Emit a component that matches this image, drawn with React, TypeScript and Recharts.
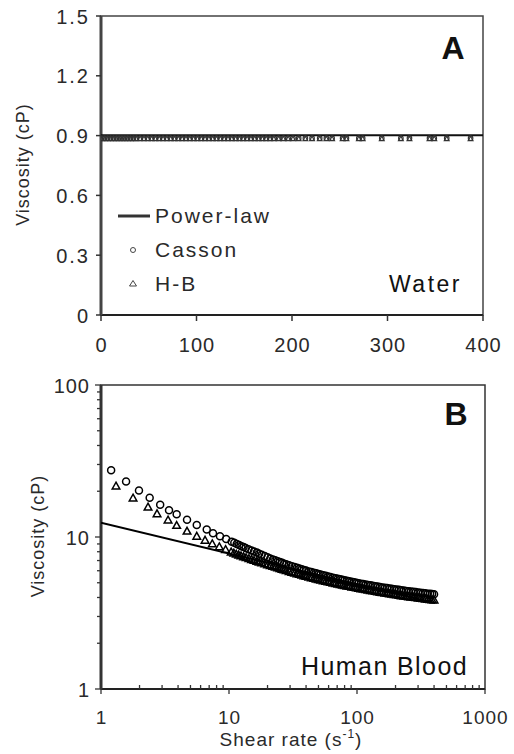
import React from 'react';
import { ScatterChart, Scatter, XAxis, YAxis, ReferenceArea, Legend } from 'recharts';

const FONT = '"Liberation Sans", Arial, Helvetica, sans-serif';
const TXT = '#2a2a2a';
const AX = '#333333';

// ---------- Panel A : Water  [shear rate, viscosity] ----------
const waterShear = [1, 4, 7, 10, 13, 16, 19, 22, 25, 28, 31, 34, 37, 41, 45, 49, 53, 57, 61, 65, 69, 73, 77, 81, 85, 89, 93, 97, 101, 105, 109, 113, 117, 121, 125, 129, 133, 137, 141, 145, 149, 153, 157, 161, 165, 169, 173, 177, 181, 186, 191, 196, 201, 207, 214, 221, 229, 236, 242, 253, 257, 270, 274, 294, 314, 323, 344, 349, 362, 387];
const waterCassonLevel = [0.887];
const waterHBLevel = [0.884];
const waterPowerShear = [0, 400];
const waterPowerVisc = [0.902, 0.902];
const waterXTicks = [0, 100, 200, 300, 400];
const waterYTicks = [0, 0.3, 0.6, 0.9, 1.2, 1.5];

// ---------- Panel B : Human blood  [shear rate, viscosity] ----------
const bloodCasson = [
  [1.2, 27.5], [1.57, 23.2], [1.98, 20.2], [2.4, 18.1], [2.9, 16.3], [3.4, 15.0], [3.9, 14.1], [4.7, 13.0], [5.6, 12.0],
  [6.7, 11.2], [7.5, 10.6], [8.5, 10.1], [9.5, 9.7], [10.5, 9.3], [11, 9.15], [11.5, 9.0], [12, 8.85], [12.5, 8.7],
  [13, 8.58], [13.5, 8.45], [14.2, 8.3], [15, 8.15], [15.7, 8.02], [16.5, 7.9], [17.2, 7.77], [18, 7.65], [19, 7.5],
  [20, 7.35], [21, 7.23], [22, 7.12], [23, 7.02], [24, 6.93], [25, 6.84], [26, 6.76], [27, 6.68], [28, 6.61],
  [29.5, 6.52], [31, 6.43], [32.5, 6.35], [34, 6.27], [35.5, 6.2], [37, 6.13], [38.5, 6.07], [40, 6.01], [42, 5.94],
  [44, 5.88], [46, 5.82], [48, 5.77], [50, 5.71], [52, 5.66], [54.5, 5.6], [57, 5.55], [59.5, 5.5], [62, 5.45],
  [65, 5.4], [68, 5.35], [71, 5.31], [74, 5.27], [77, 5.23], [80, 5.19], [83.5, 5.15], [87, 5.12], [91, 5.08],
  [95, 5.04], [99, 5.0], [103, 4.97], [107.5, 4.93], [112, 4.9], [117, 4.87], [122, 4.84], [127.5, 4.81], [133, 4.78],
  [139, 4.75], [145, 4.72], [151.5, 4.69], [158, 4.66], [165, 4.63], [172, 4.61], [179.5, 4.58], [187, 4.56],
  [195.5, 4.53], [204, 4.51], [213, 4.49], [222, 4.47], [232, 4.44], [242, 4.42], [253, 4.4], [264, 4.38], [276, 4.36],
  [288, 4.34], [301, 4.32], [314, 4.3], [328, 4.28], [342, 4.26], [357, 4.24], [372, 4.23], [386, 4.21], [400, 4.2],
];
const bloodHB = [
  [1.31, 21.6], [1.78, 18.0], [2.33, 15.7], [2.74, 14.2], [3.34, 12.9], [3.9, 11.9], [4.7, 10.9], [5.6, 10.1],
  [6.5, 9.5], [7.4, 9.0], [8.4, 8.6], [9.4, 8.25], [10.4, 7.95], [10.9, 7.82], [11.4, 7.7], [11.9, 7.6], [12.4, 7.5],
  [13, 7.4], [13.6, 7.3], [14.3, 7.2], [15, 7.1], [15.7, 7.0], [16.5, 6.9], [17.2, 6.82], [18, 6.75], [19, 6.65],
  [20, 6.55], [21, 6.47], [22, 6.4], [23, 6.32], [24, 6.25], [25, 6.18], [26, 6.12], [27, 6.06], [28, 6.0],
  [29.5, 5.92], [31, 5.85], [32.5, 5.78], [34, 5.72], [35.5, 5.66], [37, 5.6], [38.5, 5.55], [40, 5.5], [42, 5.44],
  [44, 5.38], [46, 5.33], [48, 5.28], [50, 5.23], [52, 5.19], [54.5, 5.14], [57, 5.1], [59.5, 5.06], [62, 5.02],
  [65, 4.97], [68, 4.93], [71, 4.89], [74, 4.86], [77, 4.82], [80, 4.79], [83.5, 4.75], [87, 4.72], [91, 4.68],
  [95, 4.65], [99, 4.62], [103, 4.59], [107.5, 4.56], [112, 4.53], [117, 4.5], [122, 4.47], [127.5, 4.44], [133, 4.41],
  [139, 4.38], [145, 4.35], [151.5, 4.32], [158, 4.3], [165, 4.27], [172, 4.25], [179.5, 4.22], [187, 4.2],
  [195.5, 4.17], [204, 4.15], [213, 4.12], [222, 4.1], [232, 4.08], [242, 4.06], [253, 4.04], [264, 4.02], [276, 4.0],
  [288, 3.98], [301, 3.96], [314, 3.94], [328, 3.92], [342, 3.9], [357, 3.88], [372, 3.87], [386, 3.85], [400, 3.84],
];
const bloodPower = [[1, 12.4], [407, 3.68]];
const logXTicks = [1, 2, 3, 4, 5, 6, 7, 8, 9, 10, 20, 30, 40, 50, 60, 70, 80, 90, 100, 200, 300, 400, 500, 600, 700, 800, 900, 1000];
const logYTicks = [1, 2, 3, 4, 5, 6, 7, 8, 9, 10, 20, 30, 40, 50, 60, 70, 80, 90, 100];
const decadeXLabels = [1, 10, 100, 1000];
const decadeYLabels = [1, 10, 100];
const legendOrder = ['Power-law', 'Casson', 'H-B'];

const toPts = (pairs: number[][]) => pairs.map(([x, y]) => ({ x, y }));

const waterCassonData = waterShear.map((x) => ({ x, y: waterCassonLevel[0] }));
const waterHBData = waterShear.map((x) => ({ x, y: waterHBLevel[0] }));
const waterPowerData = waterPowerShear.map((x, i) => ({ x, y: waterPowerVisc[i] }));
const bloodCassonData = toPts(bloodCasson);
const bloodHBData = toPts(bloodHB);
const bloodPowerData = toPts(bloodPower);

// ---------- shapes ----------
const makeCircle = (r: number, color: string, w: number) => (p: any) =>
  p.cx == null ? <g /> : <circle cx={p.cx} cy={p.cy} r={r} fill="none" stroke={color} strokeWidth={w} />;
const makeTriangle = (s: number, color: string, w: number) => (p: any) =>
  p.cx == null ? <g /> : (
    <path
      d={`M${p.cx},${p.cy - s} L${p.cx + s * 0.95},${p.cy + s * 0.7} L${p.cx - s * 0.95},${p.cy + s * 0.7} Z`}
      fill="none"
      stroke={color}
      strokeWidth={w}
    />
  );
const noShape = () => <g />;

// ---------- ticks ----------
const textProps = { fill: TXT, fontFamily: FONT };

function LinXTick(props: any) {
  const { x, y, payload } = props;
  return (
    <g>
      <line x1={x} x2={x} y1={y} y2={y + 6} stroke={AX} strokeWidth={1.5} />
      <text x={x + 0.5} y={y + 37} textAnchor="middle" fontSize={20} letterSpacing={1} {...textProps}>
        {payload.value}
      </text>
    </g>
  );
}
function LinYTick(props: any) {
  const { x, y, payload } = props;
  const v = payload.value as number;
  return (
    <g>
      <line x1={x} x2={x - 5} y1={y} y2={y} stroke={AX} strokeWidth={1.5} />
      <text x={x - 11} y={y + 7.5} textAnchor="end" fontSize={20} letterSpacing={2} {...textProps}>
        {v === 0 ? '0' : v.toFixed(1)}
      </text>
    </g>
  );
}
function LogXTick(props: any) {
  const { x, y, payload } = props;
  const v = payload.value as number;
  const major = decadeXLabels.includes(v);
  return (
    <g>
      <line x1={x} x2={x} y1={y} y2={major ? y + 5 : y - 4} stroke={AX} strokeWidth={1.3} />
      {major && (
        <text x={x + 0.5} y={y + 35} textAnchor="middle" fontSize={19} letterSpacing={1} {...textProps}>
          {v}
        </text>
      )}
    </g>
  );
}
function LogYTick(props: any) {
  const { x, y, payload } = props;
  const v = payload.value as number;
  const major = decadeYLabels.includes(v);
  return (
    <g>
      <line x1={x} x2={x - (major ? 6 : 4)} y1={y} y2={y} stroke={AX} strokeWidth={1.3} />
      {major && (
        <text x={x - 11} y={y + 7.5} textAnchor="end" fontSize={20} letterSpacing={1} {...textProps}>
          {v}
        </text>
      )}
    </g>
  );
}

// ---------- labels ----------
const yLabel = (cxOff: number) => (props: any) => {
  const vb = props.viewBox;
  const cx = vb.x + cxOff;
  const cy = vb.y + vb.height / 2 - 1;
  return (
    <text
      x={cx}
      y={cy}
      transform={`rotate(-90 ${cx} ${cy})`}
      textAnchor="middle"
      dominantBaseline="central"
      fontSize={18}
      letterSpacing={1}
      {...textProps}
    >
      Viscosity (cP)
    </text>
  );
};

const shearLabel = (props: any) => {
  const vb = props.viewBox;
  const cx = vb.x + vb.width / 2 - 2;
  return (
    <text x={cx} y={vb.y + 57} textAnchor="middle" fontSize={19} letterSpacing={1} {...textProps}>
      <tspan>Shear rate (s</tspan>
      <tspan dy={-8} fontSize={12}>-1</tspan>
      <tspan dy={8}>)</tspan>
    </text>
  );
};

const panelText = (letter: string, letterX: number, letterY: number, name: string, nameX: number, nameY: number, nameSize: number, nameSpacing: number) => (props: any) => {
  const vb = props.viewBox;
  return (
    <g>
      <text x={vb.x + vb.width - letterX} y={vb.y + letterY} textAnchor="middle" fontSize={32} fontWeight="bold" fill="#111" fontFamily={FONT}>
        {letter}
      </text>
      <text x={vb.x + vb.width - nameX} y={vb.y + nameY} textAnchor="end" fontSize={nameSize} letterSpacing={nameSpacing} fill="#111" fontFamily={FONT}>
        {name}
      </text>
    </g>
  );
};

// ---------- legend ----------
const LegendContent = (props: any) => {
  const items = ((props.payload || []) as any[])
    .slice()
    .sort((a, b) => legendOrder.indexOf(a.value) - legendOrder.indexOf(b.value));
  return (
    <div style={{ fontFamily: FONT }}>
      {items.map((it) => (
        <div key={it.value} style={{ display: 'flex', alignItems: 'center', height: 34 }}>
          <svg width={40} height={20} style={{ display: 'block' }}>
            {it.value === 'Power-law' && <line x1={6} x2={38} y1={10} y2={10} stroke="#333" strokeWidth={3} />}
            {it.value === 'Casson' && <circle cx={21} cy={10} r={2.5} fill="none" stroke="#444" strokeWidth={1} />}
            {it.value === 'H-B' && <path d="M21,6.5 L24.5,12 L17.5,12 Z" fill="none" stroke="#444" strokeWidth={1} />}
          </svg>
          <span style={{ marginLeft: 3, fontSize: 21, letterSpacing: 2, color: TXT, lineHeight: '34px' }}>{it.value}</span>
        </div>
      ))}
    </div>
  );
};

export default function App() {
  return (
    <div style={{ position: 'absolute', left: 0, top: 0, width: 514, height: 754, background: '#fff' }}>
      <ScatterChart width={514} height={370} margin={{ top: 16, right: 31, bottom: 15, left: 0 }}>
        <XAxis
          type="number"
          dataKey="x"
          domain={[0, 400]}
          ticks={waterXTicks}
          interval={0}
          height={40}
          tickSize={0}
          tickMargin={0}
          tickLine={false}
          tick={LinXTick}
          axisLine={{ stroke: '#222', strokeWidth: 2 }}
          allowDataOverflow
        />
        <YAxis
          type="number"
          dataKey="y"
          domain={[0, 1.5]}
          ticks={waterYTicks}
          interval={0}
          width={101}
          tickSize={0}
          tickMargin={0}
          tickLine={false}
          tick={LinYTick}
          axisLine={{ stroke: '#444', strokeWidth: 3 }}
          label={yLabel(23)}
          allowDataOverflow
        />
        <ReferenceArea
          x1={0}
          x2={400}
          y1={0}
          y2={1.5}
          fill="none"
          stroke="#444"
          strokeWidth={1.5}
          ifOverflow="visible"
          label={panelText('A', 30, 43, 'Water', 21, 276, 23, 2.5)}
        />
        <Scatter name="Power-law" data={waterPowerData} line={{ stroke: '#111', strokeWidth: 2 }} shape={noShape} legendType="line" isAnimationActive={false} />
        <Scatter name="Casson" data={waterCassonData} shape={makeCircle(2.3, '#333', 1.1)} isAnimationActive={false} />
        <Scatter name="H-B" data={waterHBData} shape={makeTriangle(2.6, '#333', 1.1)} isAnimationActive={false} />
        <Legend
          layout="vertical"
          align="center"
          verticalAlign="middle"
          content={LegendContent}
          wrapperStyle={{ position: 'absolute', left: 112, top: 199, width: 200, height: 102 }}
        />
      </ScatterChart>
      <ScatterChart width={514} height={384} margin={{ top: 15, right: 29, bottom: 5, left: 0 }}>
        <XAxis
          type="number"
          dataKey="x"
          scale="log"
          domain={[1, 1000]}
          ticks={logXTicks}
          interval={0}
          height={60}
          tickSize={0}
          tickMargin={0}
          tickLine={false}
          tick={LogXTick}
          axisLine={{ stroke: '#222', strokeWidth: 2 }}
          label={shearLabel}
          allowDataOverflow
        />
        <YAxis
          type="number"
          dataKey="y"
          scale="log"
          domain={[1, 100]}
          ticks={logYTicks}
          interval={0}
          width={101}
          tickSize={0}
          tickMargin={0}
          tickLine={false}
          tick={LogYTick}
          axisLine={{ stroke: '#333', strokeWidth: 3 }}
          label={yLabel(38)}
          allowDataOverflow
        />
        <ReferenceArea
          x1={1}
          x2={1000}
          y1={1}
          y2={100}
          fill="none"
          stroke="#333"
          strokeWidth={1.5}
          ifOverflow="visible"
          label={panelText('B', 29, 40, 'Human Blood', 17, 290, 25, 1.4)}
        />
        <Scatter name="Power-law" data={bloodPowerData} line={{ stroke: '#000', strokeWidth: 2 }} shape={noShape} isAnimationActive={false} />
        <Scatter name="Casson" data={bloodCassonData} shape={makeCircle(3.5, '#000', 1.5)} isAnimationActive={false} />
        <Scatter name="H-B" data={bloodHBData} shape={makeTriangle(4, '#000', 1.5)} isAnimationActive={false} />
      </ScatterChart>
    </div>
  );
}
